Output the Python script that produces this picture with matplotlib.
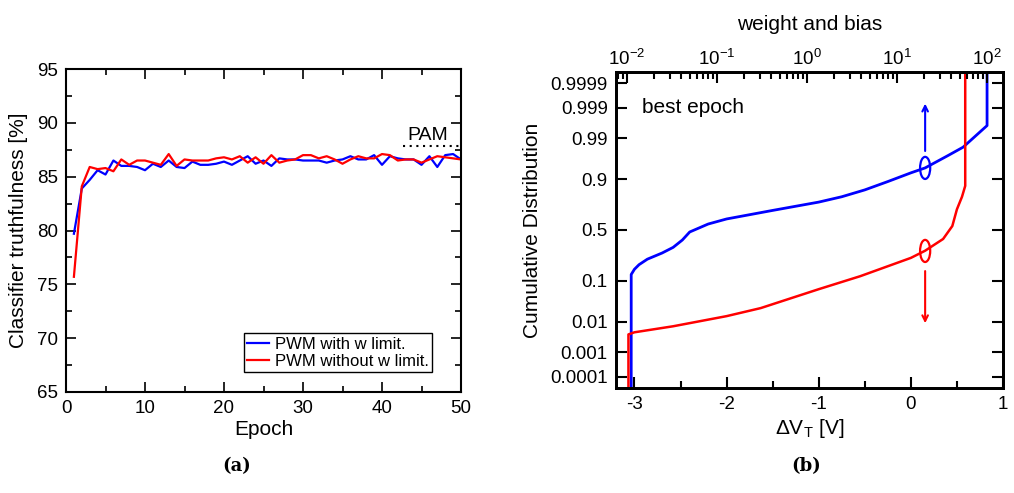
import matplotlib
matplotlib.use("Agg")
import matplotlib.pyplot as plt
from matplotlib.patches import Ellipse
from matplotlib.ticker import MultipleLocator, FixedLocator
from statistics import NormalDist
import numpy as np

plt.rcParams['font.family'] = ['Liberation Sans', 'DejaVu Sans']
plt.rcParams['mathtext.fontset'] = 'custom'
plt.rcParams['mathtext.rm'] = 'Liberation Sans'
plt.rcParams['mathtext.it'] = 'Liberation Sans:italic'
plt.rcParams['mathtext.bf'] = 'Liberation Sans:bold'
plt.rcParams['axes.unicode_minus'] = False

# ---------------- data (a) ----------------
epochs = list(range(1, 51))
acc_with_limit = [79.7, 83.9, 84.7, 85.6, 85.2, 86.5, 86.0, 86.0, 85.9, 85.6,
                  86.2, 85.9, 86.5, 85.9, 85.8, 86.4, 86.1, 86.1, 86.2, 86.4,
                  86.1, 86.5, 86.9, 86.2, 86.5, 86.0, 86.7, 86.6, 86.6, 86.5,
                  86.5, 86.5, 86.3, 86.5, 86.6, 86.9, 86.6, 86.6, 87.0, 86.1,
                  86.9, 86.7, 86.6, 86.6, 86.1, 86.9, 85.9, 87.0, 87.1, 86.6]
acc_without_limit = [75.7, 84.1, 85.9, 85.7, 85.8, 85.5, 86.6, 86.1, 86.5, 86.5,
                     86.3, 86.1, 87.1, 86.0, 86.6, 86.5, 86.5, 86.5, 86.7, 86.8,
                     86.6, 86.9, 86.3, 86.8, 86.2, 87.0, 86.3, 86.5, 86.6, 87.0,
                     87.0, 86.7, 86.9, 86.6, 86.2, 86.6, 86.9, 86.7, 86.7, 87.1,
                     87.0, 86.5, 86.6, 86.6, 86.3, 86.6, 86.9, 86.8, 86.7, 86.6]
pam_level = 87.85
pam_span = [42.7, 50]

# ---------------- data (b) ----------------
blue_dvt = [-3.035, -3.035, -3.0, -2.95, -2.86, -2.7, -2.58, -2.48, -2.40, -2.2, -2.0,
            -1.5, -1.0, -0.75, -0.5, -0.25, 0.0, 0.155, 0.4, 0.567, 0.827, 0.827]
blue_cdf = [1e-6, 0.13, 0.16, 0.19, 0.23, 0.28, 0.33, 0.40, 0.48, 0.56, 0.61,
            0.69, 0.76, 0.80, 0.845, 0.89, 0.926, 0.942, 0.97, 0.982, 0.9959, 1 - 1e-6]
red_dvt = [-3.065, -3.065, -3.0, -2.58, -2.0, -1.63, -1.0, -0.55, 0.0, 0.155,
           0.35, 0.45, 0.5, 0.555, 0.59, 0.59]
red_cdf = [1e-6, 0.0041, 0.0048, 0.0074, 0.0146, 0.024, 0.067, 0.121, 0.24, 0.30,
           0.41, 0.54, 0.70, 0.80, 0.868, 1 - 1e-6]
prob_ticks = [0.0001, 0.001, 0.01, 0.1, 0.5, 0.9, 0.99, 0.999, 0.9999]
prob_labels = ['0.0001', '0.001', '0.01', '0.1', '0.5', '0.9', '0.99', '0.999', '0.9999']

ppf = NormalDist().inv_cdf
def probit(v):
    return [ppf(p) for p in v]

W, H = 1014, 493
fig = plt.figure(figsize=(W / 100, H / 100), dpi=100)

def rect(l, t, r, b):
    return [l / W, 1 - b / H, (r - l) / W, (b - t) / H]

# ---------------- panel (a) ----------------
ax1 = fig.add_axes(rect(66, 69, 461, 392))
ax1.plot(epochs, acc_with_limit, color='blue', lw=1.6, label='PWM with w limit.')
ax1.plot(epochs, acc_without_limit, color='red', lw=1.6, label='PWM without w limit.')
ax1.plot(pam_span, [pam_level, pam_level], linestyle=(0, (1, 2.2)), color='black', lw=1.5)
ax1.text(np.mean(pam_span) - 0.6, pam_level + 0.95, 'PAM', fontsize=14, ha='center', va='center')
ax1.set_xlim(0, 50)
ax1.set_ylim(65, 95)
ax1.xaxis.set_major_locator(MultipleLocator(10))
ax1.xaxis.set_minor_locator(MultipleLocator(5))
ax1.yaxis.set_major_locator(MultipleLocator(5))
ax1.yaxis.set_minor_locator(MultipleLocator(2.5))
ax1.tick_params(which='both', direction='in', top=True, right=True, width=1.2, labelsize=13.5, pad=6)
ax1.tick_params(which='major', length=7)
ax1.tick_params(which='minor', length=4)
for s in ax1.spines.values():
    s.set_linewidth(1.5)
ax1.set_xlabel('Epoch', fontsize=15, labelpad=2)
ax1.set_ylabel('Classifier truthfulness [%]', fontsize=15, labelpad=6)
leg = ax1.legend(loc='lower right', bbox_to_anchor=(0.927, 0.062), borderaxespad=0,
                 fancybox=False, edgecolor='black', fontsize=12, handlelength=1.3,
                 handletextpad=0.35, labelspacing=0.12, borderpad=0.2, framealpha=1)
leg.get_frame().set_linewidth(1.0)

# ---------------- panel (b) ----------------
ax2 = fig.add_axes(rect(616, 72, 1003, 388))
ax2.plot(blue_dvt, probit(blue_cdf), color='blue', lw=2.0)
ax2.plot(red_dvt, probit(red_cdf), color='red', lw=1.8)
ax2.set_xlim(-3.2, 1.0)
ax2.set_ylim(-4.0, 4.0)
ax2.yaxis.set_major_locator(FixedLocator(probit(prob_ticks)))
ax2.set_yticklabels(prob_labels)
ax2.xaxis.set_major_locator(MultipleLocator(1))
ax2.xaxis.set_minor_locator(MultipleLocator(0.5))
ax2.tick_params(which='both', direction='in', top=False, right=True, width=1.5, labelsize=13.5, pad=6)
ax2.tick_params(which='major', length=8)
ax2.tick_params(which='minor', length=5)
for s in ax2.spines.values():
    s.set_linewidth(2.0)
ax2.set_xlabel(r'$\Delta$V$_\mathregular{T}$ [V]', fontsize=15, labelpad=3)
ax2.set_ylabel('Cumulative Distribution', fontsize=15, labelpad=6)
ax2.text(-2.92, 3.1, 'best epoch', fontsize=15, ha='left', va='center')

e_x = 0.155
ax2.add_patch(Ellipse((e_x, ppf(0.942)), 0.11, 0.56, fill=False, edgecolor='blue', lw=1.6))
ax2.add_patch(Ellipse((e_x, -0.53), 0.11, 0.56, fill=False, edgecolor='red', lw=1.6))
ax2.annotate('', xy=(e_x, 3.2), xytext=(e_x, 2.0),
             arrowprops=dict(arrowstyle='->', color='blue', lw=1.5, shrinkA=0, shrinkB=0))
ax2.annotate('', xy=(e_x, -2.36), xytext=(e_x, -1.04),
             arrowprops=dict(arrowstyle='->', color='red', lw=1.5, shrinkA=0, shrinkB=0))

tw = ax2.twiny()
tw.set_xscale('log')
tw.set_xlim(10 ** -2.122, 10 ** 2.178)
tw.tick_params(which='both', direction='in', width=1.5, labelsize=13.5, pad=2)
tw.tick_params(which='major', length=8)
tw.tick_params(which='minor', length=5)
tw.set_xlabel('weight and bias', fontsize=15, labelpad=14)
for s in tw.spines.values():
    s.set_linewidth(2.0)

fig.text(237 / W, 1 - 466 / H, '(a)', fontsize=13, fontweight='bold', family='DejaVu Serif',
         ha='center', va='center')
fig.text(806 / W, 1 - 466 / H, '(b)', fontsize=13, fontweight='bold', family='DejaVu Serif',
         ha='center', va='center')

fig.savefig('out.png', dpi=100)
